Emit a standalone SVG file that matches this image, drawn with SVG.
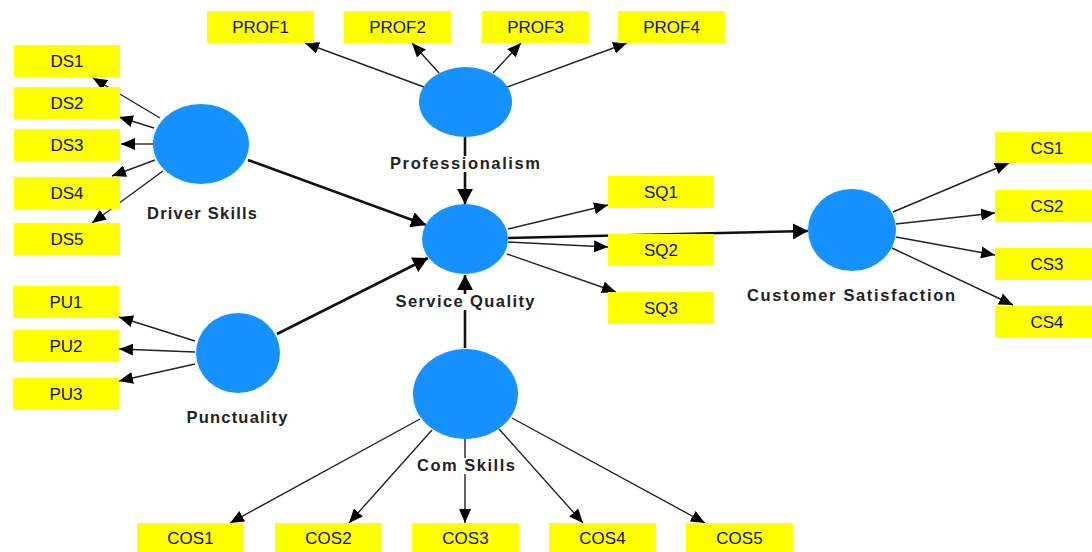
<svg xmlns="http://www.w3.org/2000/svg" width="1092" height="552" viewBox="0 0 1092 552">
<style>
.box{fill:#ffff00}
.bt{font-family:"Liberation Sans",Arial,sans-serif;font-size:17px;fill:#111;text-anchor:middle}
.lv{fill:#1592ff}
.lb{font-family:"Liberation Sans",Arial,sans-serif;font-size:16.5px;font-weight:bold;fill:#222;text-anchor:middle}
.thin{stroke:#222;stroke-width:1.4;fill:none;marker-end:url(#ah)}
.thick{stroke:#111;stroke-width:2.6;fill:none;marker-end:url(#ahb)}
</style>
<defs>
<marker id="ah" markerUnits="userSpaceOnUse" markerWidth="14" markerHeight="12" refX="14" refY="6" orient="auto"><path d="M0,0 L14,6 L0,12 z" fill="#000"/></marker>
<marker id="ahb" markerUnits="userSpaceOnUse" markerWidth="15" markerHeight="16" refX="15" refY="8" orient="auto"><path d="M0,0 L15,8 L0,16 z" fill="#000"/></marker>
</defs>
<rect width="1092" height="552" fill="#fff"/>
<g id="connectors">
<line class="thin" x1="160" y1="118" x2="93" y2="78"/>
<line class="thin" x1="154" y1="128" x2="119" y2="117"/>
<line class="thin" x1="153" y1="144" x2="121" y2="144"/>
<line class="thin" x1="155" y1="160" x2="112" y2="176"/>
<line class="thin" x1="163" y1="171" x2="92" y2="223"/>
<line class="thin" x1="424" y1="87" x2="305" y2="43"/>
<line class="thin" x1="439" y1="73" x2="412" y2="43"/>
<line class="thin" x1="493" y1="73" x2="521" y2="43"/>
<line class="thin" x1="507" y1="87" x2="627" y2="43"/>
<line class="thin" x1="195" y1="341" x2="119" y2="317"/>
<line class="thin" x1="195" y1="352" x2="119" y2="349"/>
<line class="thin" x1="195" y1="364" x2="119" y2="381"/>
<line class="thin" x1="508" y1="229" x2="608" y2="205"/>
<line class="thin" x1="508" y1="242" x2="608" y2="247"/>
<line class="thin" x1="507" y1="254" x2="616" y2="292"/>
<line class="thin" x1="893" y1="212" x2="1009" y2="163"/>
<line class="thin" x1="896" y1="224" x2="995" y2="213"/>
<line class="thin" x1="896" y1="237" x2="995" y2="255"/>
<line class="thin" x1="892" y1="248" x2="1013" y2="305"/>
<line class="thin" x1="420" y1="419" x2="230" y2="523"/>
<line class="thin" x1="432" y1="430" x2="349" y2="523"/>
<line class="thin" x1="465" y1="439" x2="465" y2="523"/>
<line class="thin" x1="499" y1="429" x2="583" y2="523"/>
<line class="thin" x1="512" y1="418" x2="705" y2="523"/>
<line class="thick" x1="248" y1="160" x2="426" y2="225"/>
<line class="thick" x1="277" y1="334" x2="428" y2="258"/>
<line class="thick" x1="465" y1="137" x2="465" y2="204"/>
<line class="thick" x1="465" y1="348" x2="465" y2="275"/>
<line class="thick" x1="508" y1="238" x2="808" y2="231"/>
</g>
<g id="DS1"><rect class="box" x="14" y="45" width="106" height="32"/><text class="bt" x="67" y="67">DS1</text></g>
<g id="DS2"><rect class="box" x="14" y="87" width="106" height="32"/><text class="bt" x="67" y="109">DS2</text></g>
<g id="DS3"><rect class="box" x="14" y="129" width="106" height="32"/><text class="bt" x="67" y="151">DS3</text></g>
<g id="DS4"><rect class="box" x="14" y="177" width="106" height="32"/><text class="bt" x="67" y="199">DS4</text></g>
<g id="DS5"><rect class="box" x="14" y="223" width="106" height="32"/><text class="bt" x="67" y="245">DS5</text></g>
<g id="PROF1"><rect class="box" x="207" y="11" width="107" height="32"/><text class="bt" x="260.5" y="33">PROF1</text></g>
<g id="PROF2"><rect class="box" x="344" y="11" width="107" height="32"/><text class="bt" x="397.5" y="33">PROF2</text></g>
<g id="PROF3"><rect class="box" x="482" y="11" width="107" height="32"/><text class="bt" x="535.5" y="33">PROF3</text></g>
<g id="PROF4"><rect class="box" x="618" y="11" width="107" height="32"/><text class="bt" x="671.5" y="33">PROF4</text></g>
<g id="SQ1"><rect class="box" x="608" y="176" width="106" height="32"/><text class="bt" x="661" y="198">SQ1</text></g>
<g id="SQ2"><rect class="box" x="608" y="234" width="106" height="32"/><text class="bt" x="661" y="256">SQ2</text></g>
<g id="SQ3"><rect class="box" x="608" y="292" width="106" height="32"/><text class="bt" x="661" y="314">SQ3</text></g>
<g id="CS1"><rect class="box" x="995" y="132" width="106" height="31"/><text class="bt" x="1047" y="154">CS1</text></g>
<g id="CS2"><rect class="box" x="995" y="190" width="106" height="32"/><text class="bt" x="1047" y="212">CS2</text></g>
<g id="CS3"><rect class="box" x="995" y="248" width="106" height="32"/><text class="bt" x="1047" y="270">CS3</text></g>
<g id="CS4"><rect class="box" x="995" y="306" width="106" height="32"/><text class="bt" x="1047" y="328">CS4</text></g>
<g id="PU1"><rect class="box" x="13" y="286" width="106" height="32"/><text class="bt" x="66" y="308">PU1</text></g>
<g id="PU2"><rect class="box" x="13" y="330" width="106" height="32"/><text class="bt" x="66" y="352">PU2</text></g>
<g id="PU3"><rect class="box" x="13" y="378" width="106" height="32"/><text class="bt" x="66" y="400">PU3</text></g>
<g id="COS1"><rect class="box" x="137" y="523" width="107" height="29"/><text class="bt" x="190.5" y="544">COS1</text></g>
<g id="COS2"><rect class="box" x="275" y="523" width="107" height="29"/><text class="bt" x="328.5" y="544">COS2</text></g>
<g id="COS3"><rect class="box" x="412" y="523" width="107" height="29"/><text class="bt" x="465.5" y="544">COS3</text></g>
<g id="COS4"><rect class="box" x="549" y="523" width="107" height="29"/><text class="bt" x="602.5" y="544">COS4</text></g>
<g id="COS5"><rect class="box" x="686" y="523" width="107" height="29"/><text class="bt" x="739.5" y="544">COS5</text></g>
<g id="DriverSkills"><ellipse class="lv" cx="201" cy="144" rx="48" ry="40"/><text class="lb" x="202" y="219" textLength="110">Driver Skills</text></g>
<g id="Professionalism"><ellipse class="lv" cx="465.5" cy="102" rx="46.5" ry="35"/><rect x="390" y="156" width="151" height="16" fill="#fff"/><text class="lb" x="465" y="169" textLength="150">Professionalism</text></g>
<g id="ServiceQuality"><ellipse class="lv" cx="465" cy="239" rx="43" ry="35"/><rect x="395" y="294" width="141" height="16" fill="#fff"/><text class="lb" x="465" y="307" textLength="139">Service Quality</text></g>
<g id="CustomerSatisfaction"><ellipse class="lv" cx="852" cy="230" rx="44" ry="41"/><text class="lb" x="851" y="301" textLength="208">Customer Satisfaction</text></g>
<g id="Punctuality"><ellipse class="lv" cx="238" cy="353" rx="42" ry="40"/><text class="lb" x="237" y="423" textLength="101">Punctuality</text></g>
<g id="ComSkills"><ellipse class="lv" cx="465.5" cy="394" rx="52.5" ry="45"/><rect x="415" y="458" width="101" height="16" fill="#fff"/><text class="lb" x="466" y="471" textLength="98">Com Skills</text></g>
</svg>
